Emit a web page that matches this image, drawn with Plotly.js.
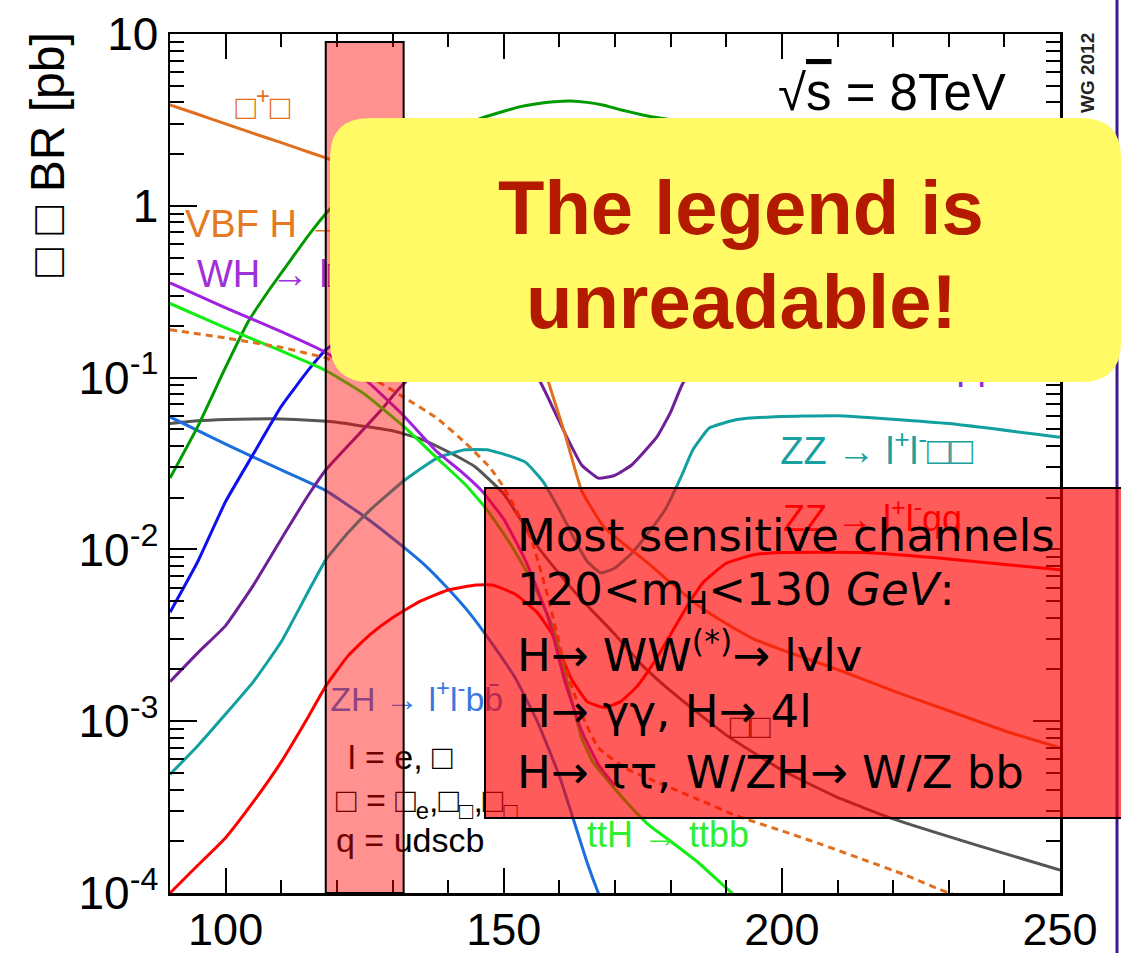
<!DOCTYPE html>
<html><head><meta charset="utf-8">
<script src="https://cdn.plot.ly/plotly-3.0.1.min.js"></script>
<style>body{margin:0;background:#fff}#chart{width:1121px;height:953px}</style>
</head><body><div id="chart"></div>
<script>
// ---------------- data (sigma x BR [pb] vs m_H [GeV]) ----------------
const mTauTau = [90,95,100,105,110,115,118,120,125,130,135,140,145,150,155,158,161,164,168,172,176,180,185,190,195,200,210,220,230,240,250];
const xsTauTau = [3.87,3.41,3.0,2.64,2.33,2.05,1.90,1.80,1.55,1.30,1.08,0.85,0.60,0.40,0.20,0.095,0.047,0.022,0.0135,0.0105,0.0083,0.0064,0.0047,0.0037,0.0030,0.0026,0.0020,0.0015,0.00115,0.00088,0.0007];

const mVbfTauTau = [90,100,110,118,125,132,138,143,147.5,150,155,158,161,164,167,172,177,185,192,200,206.5,215,222,230,236];
const xsVbfTauTau = [0.19,0.17,0.15,0.13,0.105,0.077,0.058,0.042,0.030,0.023,0.0113,0.0052,0.0021,0.0011,0.0007,0.00053,0.00045,0.00035,0.00028,0.00023,0.000195,0.000155,0.000128,0.0001,0.000088];

const mWWlvqq = [90,95,100,104,108,112,115,118,120,125,130,135,140,145,147,150,153,156,159,162,165,168,171,175,178,185,190,200,220,250];
const xsWWlvqq = [0.026,0.052,0.115,0.21,0.33,0.50,0.68,0.90,1.05,1.50,1.95,2.35,2.75,3.15,3.32,3.55,3.78,3.93,4.03,4.07,4.0,3.85,3.62,3.38,3.24,3.0,2.85,2.55,2.05,1.55];

const mWWlvlv = [90,95,100,105,110,115,118,122,126,130,140,150,160,170,180,200,220,250];
const xsWWlvlv = [0.0043,0.0085,0.019,0.036,0.068,0.112,0.145,0.18,0.22,0.26,0.38,0.48,0.60,0.58,0.50,0.30,0.22,0.16];

const mZZllqq = [90,95,100,105,110,115,118,121,124,128,131,135,140,145,150,153,156.5,159,161.5,164,167,170,173,177.5,180,182,185,190,200,220,250];
const xsZZllqq = [0.0017,0.0025,0.0036,0.0062,0.0115,0.021,0.029,0.037,0.047,0.065,0.085,0.115,0.15,0.17,0.16,0.13,0.095,0.065,0.044,0.031,0.026,0.027,0.031,0.045,0.063,0.09,0.13,0.17,0.20,0.19,0.15];

const mZZllvv = [90,95,100,105,110,115,118,122,126,132,138,143,147,151,154,157,160,163,165,167.5,170,173,176,179,182,184,187,192,198,210,230,250];
const xsZZllvv = [0.00049,0.00072,0.0011,0.0017,0.0029,0.0058,0.0087,0.0125,0.017,0.025,0.034,0.038,0.038,0.035,0.032,0.025,0.017,0.011,0.0085,0.0073,0.0078,0.0095,0.0125,0.017,0.027,0.038,0.051,0.057,0.059,0.060,0.054,0.045];

const mZZ4l = [90,95,100,105,110,115,118,122,126,130,135,140,145,148,152,156,159,162,165,168,171,174,177,180,183,186,190,195,200,215,230,250];
const xsZZ4l = [0.0001,0.000145,0.00021,0.00034,0.00058,0.00108,0.0016,0.0024,0.0032,0.0040,0.0050,0.0058,0.0062,0.0062,0.0055,0.0043,0.0031,0.0018,0.0013,0.0012,0.0013,0.0016,0.0022,0.0032,0.0047,0.0065,0.0083,0.0093,0.0096,0.0096,0.0088,0.0076];

const mTTH = [90,100,110,118,125,132,138,143,147,151,155,159,162,164,166,169,172,176,180,185,191,195];
const xsTTH = [0.27,0.195,0.143,0.11,0.08,0.052,0.034,0.024,0.017,0.011,0.0066,0.0034,0.0014,0.0008,0.00058,0.00044,0.00034,0.00025,0.0002,0.00015,0.0001,0.00008];

const mWH = [90,100,110,118,125,132,138,142,146,150,154,158,161,164,167,170];
const xsWH = [0.356,0.255,0.185,0.14,0.098,0.060,0.037,0.029,0.022,0.015,0.0085,0.0040,0.0017,0.00088,0.00056,0.00042];

const mZH = [90,100,110,118,125,132,136,140,144,148,152,156,160,163,165,167,169];
const xsZH = [0.059,0.041,0.029,0.022,0.0155,0.0103,0.008,0.0059,0.0042,0.0028,0.0018,0.0010,0.00048,0.00024,0.00015,0.0001,0.00007];

const mGamGam = [90,95,100,105,110,115,120,125,130,135,140,145,150,153,156,160,164,170,175,180,190,200,210,220,235,250];
const xsGamGam = [0.054,0.056,0.057,0.0575,0.0575,0.0565,0.055,0.052,0.049,0.044,0.037,0.030,0.021,0.015,0.0105,0.0072,0.0051,0.0032,0.0021,0.0015,0.00083,0.00052,0.00036,0.00027,0.00019,0.000136];

// axis ticks
const xTickVals = [100,150,200,250];
const xTickText = ['100','150','200','250'];
const yTickVals = [1e-4,1e-3,1e-2,1e-1,1,10];
const yTickText = ['10<sup>-4</sup>','10<sup>-3</sup>','10<sup>-2</sup>','10<sup>-1</sup>','1','10'];
const yMinorVals = [];
[1e-4,1e-3,1e-2,1e-1,1].forEach(d => { for (let k=2;k<=9;k++) yMinorVals.push(k*d); });

// curve labels (text, mass, sigma x BR)
const labelText = ['□<sup>+</sup>□','VBF H → □□','WH → l□bb','ZZ → l<sup>+</sup>l<sup>-</sup>□□','ZZ → l<sup>+</sup>l<sup>-</sup>qq','□□','ZH → l<sup>+</sup>l<sup>-</sup>bb̄','l = e, □','□ = □<sub>e</sub>,□<sub>□</sub>,□<sub>□</sub>','q = udscb','ttH → ttbb','ZZ → l<sup>+</sup>l<sup>-</sup>qq'];
const labelMass = [106.7,92.7,94.85,199.7,200.2,194.3,118.8,122.0,119.84,119.84,164.97,202.7];
const labelXS = [3.61,0.743,0.385,0.0355,0.0144,0.00089,0.00129,0.000594,0.000334,0.000195,0.000209,0.1115];
const labelPos = ['middle center','middle right','middle right','middle right','middle right','middle center','middle right','middle right','middle right','middle right','middle right','middle right'];
const labelColor = ['#e07020','#e67a22','#a030d8','#18a0a0','#ff0000','#222222','#3a78e0','#000000','#000000','#000000','#30ee30','#8a2be2'];
const labelSize = [34,38,38,38,36,34,34,34,34,34,36,38];

// ---------------- traces ----------------
function curve(x, y, color, dash) {
  return {x:x, y:y, type:'scatter', mode:'lines', hoverinfo:'skip',
    line:{color:color, width:3, dash:dash||'solid', shape:'spline', smoothing:0.4}};
}
const traces = [
  curve(mGamGam, xsGamGam, '#555555'),
  curve(mZH, xsZH, '#1a6fdc'),
  curve(mZZ4l, xsZZ4l, '#ff0000'),
  curve(mZZllvv, xsZZllvv, '#119f9f'),
  curve(mZZllqq, xsZZllqq, '#6f2097'),
  curve(mWWlvlv, xsWWlvlv, '#1010ee'),
  curve(mWWlvqq, xsWWlvqq, '#009a00'),
  curve(mTTH, xsTTH, '#11ee11'),
  curve(mWH, xsWH, '#a020e0'),
  curve(mVbfTauTau, xsVbfTauTau, '#e07020', '7px,5px'),
  curve(mTauTau, xsTauTau, '#e07020'),
  {x:labelMass, y:labelXS, text:labelText, type:'scatter', mode:'text', hoverinfo:'skip',
   textposition:labelPos, textfont:{family:'Liberation Sans, DejaVu Sans', size:labelSize, color:labelColor}}
];

// ---------------- layout ----------------
const px = v => (v-170)/890;      // pixel x -> paper
const py = v => (893-v)/859;      // pixel y -> paper
const yx0=px(330), yx1=px(1121), yy0=py(382), yy1=py(118), rx=40/890, ry=40/859;
const yellowPath = `M ${yx0+rx},${yy1} L ${yx1-rx},${yy1} Q ${yx1},${yy1} ${yx1},${yy1-ry} L ${yx1},${yy0+ry} Q ${yx1},${yy0} ${yx1-rx},${yy0} L ${yx0+rx},${yy0} Q ${yx0},${yy0} ${yx0},${yy0+ry} L ${yx0},${yy1-ry} Q ${yx0},${yy1} ${yx0+rx},${yy1} Z`;

const tickFont = {family:'Liberation Sans, Arial, sans-serif', size:46, color:'#000'};
const boxFont = {family:'DejaVu Sans, sans-serif', size:45, color:'#000'};
function boxLine(text, yPix) {
  return {xref:'paper', yref:'paper', x:px(515), y:py(yPix), xanchor:'left', yanchor:'middle',
          text:text, showarrow:false, font:boxFont};
}

const layout = {
  width:1121, height:953,
  margin:{l:170, r:61, t:34, b:60},
  paper_bgcolor:'#fff', plot_bgcolor:'#fff',
  showlegend:false,
  xaxis:{range:[90,250], tickmode:'array', tickvals:xTickVals, ticktext:xTickText,
    ticks:'inside', ticklen:25, tickwidth:2, tickcolor:'#000', ticklabelstandoff:-5,
    showline:true, linewidth:2.5, linecolor:'#000', mirror:'allticks',
    showgrid:false, zeroline:false, tickfont:{family:'Liberation Sans, Arial, sans-serif', size:45, color:'#000'},
    minor:{dtick:10, tick0:0, ticks:'inside', ticklen:13, tickwidth:2, tickcolor:'#000', showgrid:false}},
  yaxis:{type:'log', range:[-4,1], tickmode:'array', tickvals:yTickVals, ticktext:yTickText,
    ticks:'inside', ticklen:27, tickwidth:2, tickcolor:'#000',
    showline:true, linewidth:2.5, linecolor:'#000', mirror:'allticks',
    showgrid:false, zeroline:false, tickfont:tickFont,
    minor:{tickmode:'array', tickvals:yMinorVals, ticks:'inside', ticklen:14, tickwidth:2, tickcolor:'#000', showgrid:false}},
  shapes:[
    {type:'line', xref:'paper', yref:'paper', x0:px(1117), x1:px(1117), y0:py(953), y1:py(0),
     line:{color:'#3c1a8c', width:3}, layer:'above'},
    {type:'rect', xref:'x', yref:'paper', x0:118, x1:132, y0:0, y1:py(42),
     fillcolor:'rgba(255,0,0,0.43)', line:{color:'#000', width:2}, layer:'above'},
    {type:'rect', xref:'paper', yref:'paper', x0:px(485), x1:px(1130), y0:py(818), y1:py(488),
     fillcolor:'rgba(255,0,0,0.645)', line:{color:'#000', width:2}, layer:'above'},
    {type:'path', xref:'paper', yref:'paper', path:yellowPath,
     fillcolor:'#fffa66', line:{width:0}, layer:'above'}
  ],
  annotations:[
    {xref:'paper', yref:'paper', x:px(741), y:py(207), text:'<b>The legend is</b>', showarrow:false,
     xanchor:'center', yanchor:'middle', font:{family:'Liberation Sans, Arial, sans-serif', size:76, color:'#b31a00'}},
    {xref:'paper', yref:'paper', x:px(741), y:py(301), text:'<b>unreadable!</b>', showarrow:false,
     xanchor:'center', yanchor:'middle', font:{family:'Liberation Sans, Arial, sans-serif', size:76, color:'#b31a00'}},
    boxLine('Most sensitive channels', 535),
    boxLine('120&lt;m<sub>H</sub>&lt;130 <i>GeV</i>:', 592),
    boxLine('H→ WW<sup>(*)</sup>→ lvlv', 652),
    boxLine('H→ γγ, H→ 4l', 711),
    boxLine('H→ ττ, W/ZH→ W/Z bb', 772),
    {xref:'paper', yref:'paper', x:px(892), y:py(92), text:'√<span style="text-decoration:overline">s</span> = 8TeV', showarrow:false,
     xanchor:'center', yanchor:'middle', font:{family:'Liberation Sans, Arial, sans-serif', size:51, color:'#000'}},
    {xref:'paper', yref:'paper', x:px(1087), y:py(73), text:'<b>WG 2012</b>', showarrow:false, textangle:-90,
     xanchor:'center', yanchor:'middle', font:{family:'Liberation Sans, Arial, sans-serif', size:19, color:'#222'}},
    {xref:'paper', yref:'paper', x:px(47), y:py(155), text:'□ □ BR [pb]', showarrow:false, textangle:-90,
     xanchor:'center', yanchor:'middle', font:{family:'Liberation Sans, DejaVu Sans, sans-serif', size:48, color:'#000'}}
  ]
};

Plotly.newPlot('chart', traces, layout, {displayModeBar:false, staticPlot:true});
</script></body></html>
